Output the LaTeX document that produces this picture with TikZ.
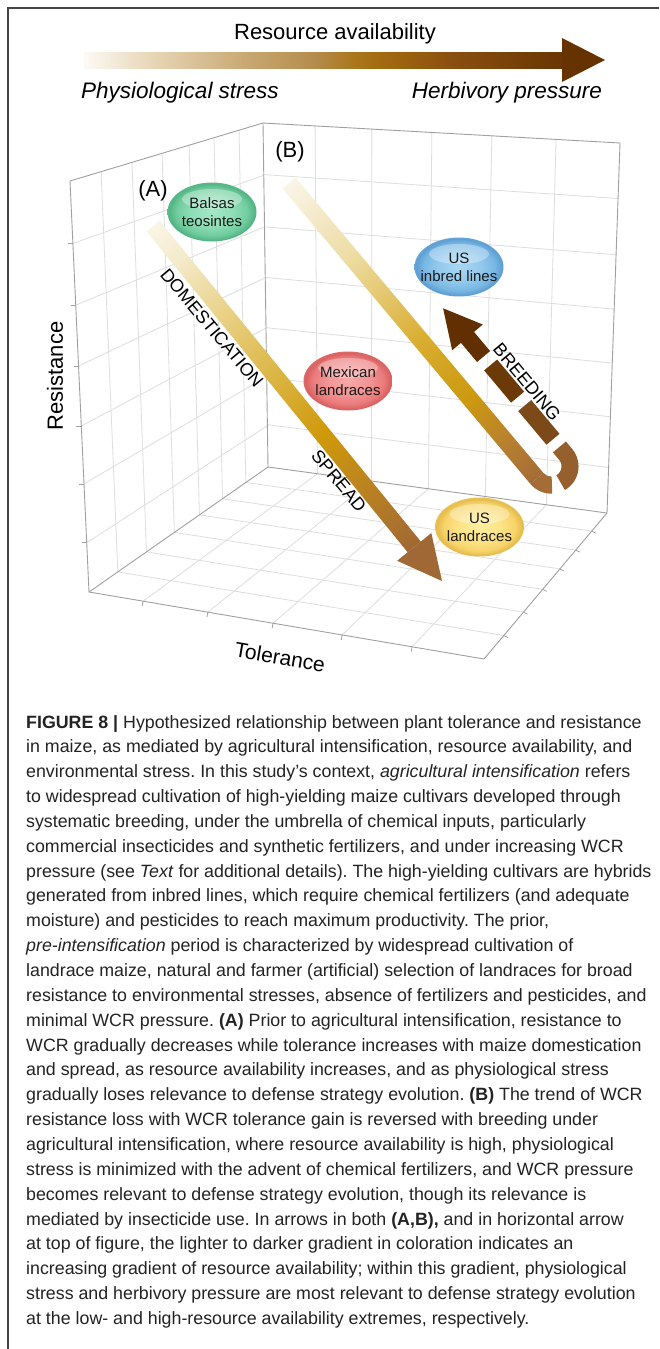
\documentclass[tikz,border=0pt]{standalone}
\usepackage{fontspec}
\setmainfont{Liberation Sans}
\newfontfamily\capfont{Liberation Sans}
\usetikzlibrary{calc}
\frenchspacing
\definecolor{gridgray}{RGB}{222,222,222}
\definecolor{edgegray}{RGB}{160,160,160}
\definecolor{framecol}{RGB}{70,70,70}
\definecolor{capgray}{RGB}{35,35,35}
\definecolor{headA}{RGB}{160,104,52}
\definecolor{ubrown}{RGB}{164,108,54}
\definecolor{dashC}{RGB}{150,96,46}
\definecolor{dashB}{RGB}{124,74,24}
\definecolor{dashA}{RGB}{108,58,6}
\definecolor{headB}{RGB}{98,48,0}
\definecolor{topHead}{RGB}{102,51,0}
\pgfdeclarehorizontalshading{topgrad}{100bp}{rgb(0bp)=(0.99,0.98,0.96); rgb(25bp)=(0.99,0.98,0.96); rgb(32bp)=(0.91,0.84,0.72); rgb(42.5bp)=(0.78,0.65,0.43); rgb(49bp)=(0.71,0.55,0.3); rgb(53bp)=(0.67,0.47,0.12); rgb(56bp)=(0.64,0.42,0.06); rgb(63.5bp)=(0.54,0.31,0.06); rgb(72.5bp)=(0.44,0.23,0.02); rgb(75bp)=(0.42,0.21,0.02); rgb(100bp)=(0.42,0.21,0.02)}
\pgfdeclarehorizontalshading{gradA}{100bp}{rgb(0bp)=(0.98,0.96,0.9); rgb(25bp)=(0.98,0.96,0.9); rgb(30bp)=(0.96,0.92,0.8); rgb(39.5bp)=(0.91,0.81,0.5); rgb(50bp)=(0.85,0.69,0.22); rgb(57.5bp)=(0.81,0.6,0.04); rgb(65bp)=(0.74,0.52,0.12); rgb(75bp)=(0.63,0.41,0.2); rgb(100bp)=(0.63,0.41,0.2)}
\pgfdeclarehorizontalshading{gradB}{100bp}{rgb(0bp)=(0.98,0.96,0.91); rgb(25bp)=(0.98,0.96,0.91); rgb(30bp)=(0.96,0.92,0.8); rgb(37.75bp)=(0.93,0.86,0.63); rgb(51.5bp)=(0.85,0.68,0.19); rgb(61.5bp)=(0.8,0.6,0.06); rgb(69bp)=(0.72,0.5,0.19); rgb(75bp)=(0.643,0.424,0.212); rgb(100bp)=(0.643,0.424,0.212)}
\pgfdeclareradialshading{ballgreen}{\pgfpoint{0bp}{0bp}}{rgb(0bp)=(0.64,0.91,0.78); rgb(12bp)=(0.56,0.87,0.71); rgb(20bp)=(0.44,0.8,0.62); rgb(24bp)=(0.33,0.71,0.52); rgb(25bp)=(0.36,0.73,0.55); rgb(50bp)=(0.36,0.73,0.55)}
\pgfdeclareradialshading{ballred}{\pgfpoint{0bp}{0bp}}{rgb(0bp)=(0.97,0.66,0.66); rgb(12bp)=(0.95,0.58,0.58); rgb(20bp)=(0.92,0.48,0.48); rgb(24bp)=(0.85,0.38,0.38); rgb(25bp)=(0.87,0.42,0.42); rgb(50bp)=(0.87,0.42,0.42)}
\pgfdeclareradialshading{ballblue}{\pgfpoint{0bp}{0bp}}{rgb(0bp)=(0.66,0.84,0.96); rgb(12bp)=(0.58,0.79,0.93); rgb(20bp)=(0.47,0.72,0.89); rgb(24bp)=(0.37,0.62,0.83); rgb(25bp)=(0.4,0.65,0.85); rgb(50bp)=(0.4,0.65,0.85)}
\pgfdeclareradialshading{ballyellow}{\pgfpoint{0bp}{0bp}}{rgb(0bp)=(1,0.93,0.62); rgb(12bp)=(0.99,0.89,0.52); rgb(20bp)=(0.97,0.83,0.42); rgb(24bp)=(0.9,0.74,0.3); rgb(25bp)=(0.92,0.77,0.34); rgb(50bp)=(0.92,0.77,0.34)}
\newcommand\bubble[3]{%
  \shade[shading=#3] (#1,#2) ellipse [x radius=44.5, y radius=29.5];
  \fill[white, fill opacity=0.32] (#1,#2-13) ellipse [x radius=30, y radius=10];}
\begin{document}
\begin{tikzpicture}[x=1pt,y=-1pt,
  gridln/.style={gridgray, line width=0.8pt},
  edgeln/.style={edgegray, line width=0.9pt},
  tickln/.style={edgegray, line width=0.8pt},
  lbl/.style={inner sep=0pt, font=\fontsize{22}{26}\selectfont},
  itlbl/.style={inner sep=0pt, font=\fontsize{22.5}{26}\selectfont\itshape},
  arrlbl/.style={inner sep=0pt, font=\fontsize{18}{21}\selectfont},
  bubtxt/.style={inner sep=0pt, align=center, font=\fontsize{15}{18}\selectfont, text=black!90},
  captxt/.style={inner sep=0pt, anchor=base west, font=\capfont\fontsize{17.8}{21}\selectfont, text=capgray}]
\useasboundingbox (0,0) rectangle (659,1349);
\fill[white] (0,0) rectangle (659,1349);
% frame
\coordinate (frBL) at (8,1349);
\coordinate (frTL) at (8,8);
\coordinate (frTR) at (659,8);
\draw[framecol, line width=1.4pt] (frBL) -- (frTL) -- (frTR);
% top arrow
\shade[shading=topgrad] (84,52) rectangle (562,68);
\fill[topHead] (562,38) -- (605,60) -- (562,82) -- cycle;
\node[lbl] (resav) at (335,34) {Resource availability};
\node[itlbl] (phys) at (180,93) {Physiological stress};
\node[itlbl] (herb) at (507,93) {Herbivory pressure};
% box corners
\coordinate (LTF) at (70,181);
\coordinate (LTB) at (263,123);
\coordinate (LBB) at (268,467);
\coordinate (LBF) at (89,592);
\coordinate (BTR) at (620,143);
\coordinate (BBR) at (607,513);
\coordinate (FFR) at (484,659);
% grids
\foreach \f in {0.161,0.321,0.477,0.617,0.746,0.876}
  \draw[gridln] ($(LTF)!\f!(LTB)$) -- ($(LBF)!\f!(LBB)$);
\foreach \g in {0.152,0.302,0.45,0.596,0.737,0.88}
  \draw[gridln] ($(LTF)!\g!(LBF)$) -- ($(LTB)!\g!(LBB)$);
\foreach \f in {0.146,0.305,0.473,0.641,0.821}
  \draw[gridln] ($(LTB)!\f!(BTR)$) -- ($(LBB)!\f!(BBR)$);
\foreach \g in {0.15,0.302,0.449,0.595,0.74,0.877}
  \draw[gridln] ($(LTB)!\g!(LBB)$) -- ($(BTR)!\g!(BBR)$);
\foreach \a/\b in {0.146/0.137,0.305/0.301,0.473/0.466,0.641/0.641,0.821/0.818}
  \draw[gridln] ($(LBB)!\a!(BBR)$) -- ($(LBF)!\b!(FFR)$);
\foreach \f in {0.161,0.321,0.477,0.617,0.746,0.876}
  \draw[gridln] ($(LBF)!\f!(LBB)$) -- ($(FFR)!\f!(BBR)$);
% edges
\draw[edgeln] (LBF) -- (LTF) -- (LTB) -- (BTR) -- (BBR) -- (FFR) -- cycle;
\draw[edgeln] (LTB) -- (LBB) -- (LBF);
\draw[edgeln] (LBB) -- (BBR);
% ticks
\foreach \g in {0.152,0.302,0.45,0.596,0.737,0.88}
  \draw[tickln] ($(LTF)!\g!(LBF)$) -- ++(-5,0);
\foreach \b in {0.137,0.301,0.466,0.641,0.818}
  \draw[tickln] ($(LBF)!\b!(FFR)$) -- ++(-1,5);
\foreach \f in {0.161,0.321,0.477,0.617,0.746,0.876}
  \draw[tickln] ($(FFR)!\f!(BBR)$) -- ++(4,2);
% axis labels
\node[lbl, rotate=90] (resist) at (55,376) {Resistance};
\node[inner sep=0pt, font=\fontsize{21}{25}\selectfont, rotate=-9.6] (tol) at (280,657) {Tolerance};
\node[lbl] (labA) at (153,191) {(A)};
\node[lbl] (labB) at (290,152) {(B)};
% bubbles
\bubble{212}{212}{ballgreen}
\bubble{348}{381}{ballred}
\bubble{459}{267}{ballblue}
\bubble{479.5}{527}{ballyellow}
\node[bubtxt] (balsas) at (212,212) {Balsas\\teosintes};
\node[bubtxt] (mex) at (348,381) {Mexican\\landraces};
\node[bubtxt] (usin) at (459,267) {US\\inbred lines};
\node[bubtxt] (usland) at (479.5,527) {US\\landraces};
% arrow A
\begin{scope}[transform canvas={shift={(153,226)}, rotate=-50.85}]
  \shade[shading=gradA] (0,-8.5) rectangle (413.8,8.5);
  \fill[headA] (413.8,-22) -- (457.8,0) -- (413.8,22) -- cycle;
\end{scope}
% arrow B with U-turn and dashed breeding arrow
\begin{scope}[transform canvas={shift={(289,183)}, rotate=-50}]
  \shade[shading=gradB] (0,-8.5) rectangle (385.7,8.5);
  \coordinate (UC) at (385.7,-18.75);
  \fill[ubrown] ($(UC)+(90:27.25)$) arc[start angle=90, end angle=38, radius=27.25]
     -- ($(UC)+(38:10.25)$) arc[start angle=38, end angle=90, radius=10.25] -- cycle;
  \fill[dashC] ($(UC)+(10:27.25)$) arc[start angle=10, end angle=-90, radius=27.25]
     -- (376,-46) -- (376,-29) -- ($(UC)+(-90:10.25)$)
     arc[start angle=-90, end angle=10, radius=10.25] -- cycle;
  \fill[dashB] (322,-46) rectangle (366,-29);
  \fill[dashA] (269,-46) rectangle (311,-29);
  \fill[headB] (232,-46) rectangle (258,-29);
  \fill[headB] (233,-57.5) -- (195,-37.5) -- (233,-17.5) -- cycle;
\end{scope}
% arrow labels
\node[arrlbl, rotate=-50] (dom) at (212,328) {DOMESTICATION};
\node[arrlbl, rotate=-50] (spread) at (339,481) {SPREAD};
\node[arrlbl, rotate=-50] (breed) at (527,382) {BREEDING};
% caption
\node[captxt] (c1) at (26,728) {\textbf{FIGURE 8 |} Hypothesized relationship between plant tolerance and resistance};
\node[captxt] (c2) at (26,752.85) {in maize, as mediated by agricultural intensification, resource availability, and};
\node[captxt] (c3) at (26,777.7) {environmental stress. In this study’s context, \textit{agricultural intensification} refers};
\node[captxt] (c4) at (26,802.55) {to widespread cultivation of high-yielding maize cultivars developed through};
\node[captxt] (c5) at (26,827.4) {systematic breeding, under the umbrella of chemical inputs, particularly};
\node[captxt] (c6) at (26,852.25) {commercial insecticides and synthetic fertilizers, and under increasing WCR};
\node[captxt] (c7) at (26,877.1) {pressure (see \textit{Text} for additional details). The high-yielding cultivars are hybrids};
\node[captxt] (c8) at (26,901.95) {generated from inbred lines, which require chemical fertilizers (and adequate};
\node[captxt] (c9) at (26,926.8) {moisture) and pesticides to reach maximum productivity. The prior,};
\node[captxt] (c10) at (26,951.65) {\textit{pre-intensification} period is characterized by widespread cultivation of};
\node[captxt] (c11) at (26,976.5) {landrace maize, natural and farmer (artificial) selection of landraces for broad};
\node[captxt] (c12) at (26,1001.35) {resistance to environmental stresses, absence of fertilizers and pesticides, and};
\node[captxt] (c13) at (26,1026.2) {minimal WCR pressure. \textbf{(A)} Prior to agricultural intensification, resistance to};
\node[captxt] (c14) at (26,1051.05) {WCR gradually decreases while tolerance increases with maize domestication};
\node[captxt] (c15) at (26,1075.9) {and spread, as resource availability increases, and as physiological stress};
\node[captxt] (c16) at (26,1100.75) {gradually loses relevance to defense strategy evolution. \textbf{(B)} The trend of WCR};
\node[captxt] (c17) at (26,1125.6) {resistance loss with WCR tolerance gain is reversed with breeding under};
\node[captxt] (c18) at (26,1150.45) {agricultural intensification, where resource availability is high, physiological};
\node[captxt] (c19) at (26,1175.3) {stress is minimized with the advent of chemical fertilizers, and WCR pressure};
\node[captxt] (c20) at (26,1200.15) {becomes relevant to defense strategy evolution, though its relevance is};
\node[captxt] (c21) at (26,1225) {mediated by insecticide use. In arrows in both \textbf{(A,B),} and in horizontal arrow};
\node[captxt] (c22) at (26,1249.85) {at top of figure, the lighter to darker gradient in coloration indicates an};
\node[captxt] (c23) at (26,1274.7) {increasing gradient of resource availability; within this gradient, physiological};
\node[captxt] (c24) at (26,1299.55) {stress and herbivory pressure are most relevant to defense strategy evolution};
\node[captxt] (c25) at (26,1324.4) {at the low- and high-resource availability extremes, respectively.};
\end{tikzpicture}
\end{document}
